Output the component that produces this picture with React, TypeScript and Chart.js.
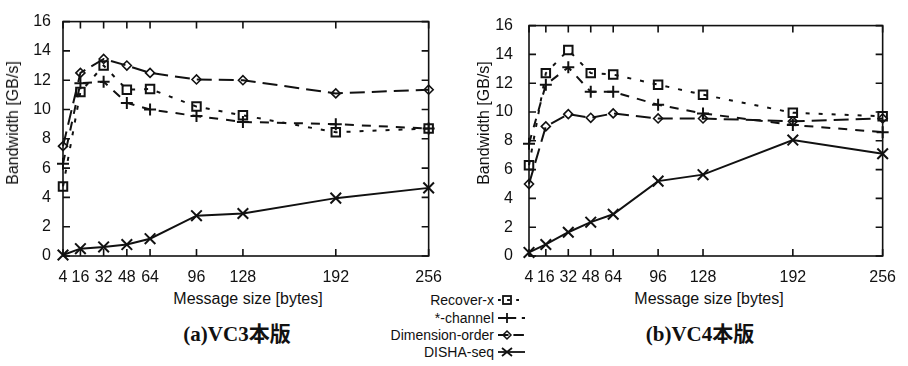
import React, { useEffect, useRef } from 'react';
import { Chart, registerables } from 'chart.js';

Chart.register(...registerables);

// ---------- data ----------
const messageSizes = [4, 16, 32, 48, 64, 96, 128, 192, 256];
const xTickValues = [4, 16, 32, 48, 64, 96, 128, 192, 256];
const yMin = 0;
const yMax = 16;
const yStep = 2;

const seriesNames = ['Recover-x', '*-channel', 'Dimension-order', 'DISHA-seq'];

const vc3RecoverX = [4.75, 11.2, 13.0, 11.35, 11.4, 10.2, 9.6, 8.45, 8.7];
const vc3StarChannel = [6.3, 11.8, 11.9, 10.45, 10.0, 9.55, 9.15, 9.0, 8.7];
const vc3DimensionOrder = [7.5, 12.5, 13.45, 13.0, 12.5, 12.05, 12.0, 11.1, 11.35];
const vc3DishaSeq = [0.07, 0.5, 0.62, 0.78, 1.18, 2.75, 2.9, 3.95, 4.65];

const vc4RecoverX = [6.3, 12.7, 14.3, 12.7, 12.6, 11.9, 11.2, 9.95, 9.7];
const vc4StarChannel = [7.8, 11.9, 13.1, 11.4, 11.4, 10.5, 9.9, 9.1, 8.6];
const vc4DimensionOrder = [5.0, 9.0, 9.85, 9.6, 9.9, 9.55, 9.55, 9.35, 9.55];
const vc4DishaSeq = [0.25, 0.8, 1.65, 2.35, 2.9, 5.2, 5.65, 8.05, 7.1];

const xTitle = 'Message size [bytes]';
const yTitle = 'Bandwidth [GB/s]';
const captionA = '(a)VC3本版';
const captionB = '(b)VC4本版';

// ---------- styles ----------
const INK = '#111';
const SANS = "'Liberation Sans', Arial, Helvetica, sans-serif";
const SERIF = "'Liberation Serif', 'DejaVu Serif', 'Noto Sans CJK JP', serif";

const seriesStyles = [
  { dash: [4, 9], pointStyle: 'rect', radius: 6, pointBorderWidth: 2 },
  { dash: [9, 8], pointStyle: 'cross', radius: 6, pointBorderWidth: 2 },
  { dash: [15, 7], pointStyle: 'rectRot', radius: 4.5, pointBorderWidth: 1.6 },
  { dash: [], pointStyle: 'crossRot', radius: 7.5, pointBorderWidth: 2 },
];

const framePlugin = {
  id: 'gnuFrame',
  afterDatasetsDraw(chart: any) {
    const { ctx, chartArea, scales } = chart;
    const { left, right, top, bottom } = chartArea;
    const x = scales.x;
    const y = scales.y;
    const t = 7;
    ctx.save();
    ctx.strokeStyle = INK;
    ctx.lineWidth = 1.6;
    ctx.strokeRect(left, top, right - left, bottom - top);
    ctx.beginPath();
    x.ticks.forEach((tk: any) => {
      const px = x.getPixelForValue(tk.value);
      ctx.moveTo(px, bottom);
      ctx.lineTo(px, bottom - t);
      ctx.moveTo(px, top);
      ctx.lineTo(px, top + t);
    });
    y.ticks.forEach((tk: any) => {
      const py = y.getPixelForValue(tk.value);
      ctx.moveTo(left, py);
      ctx.lineTo(left + t, py);
      ctx.moveTo(right, py);
      ctx.lineTo(right - t, py);
    });
    ctx.stroke();
    ctx.restore();
  },
};

function makeDatasets(series: number[][]) {
  return series.map((vals, i) => {
    const s = seriesStyles[i];
    return {
      label: seriesNames[i],
      data: messageSizes.map((m, j) => ({ x: m, y: vals[j] })),
      borderColor: INK,
      borderWidth: 2,
      borderDash: s.dash,
      pointStyle: s.pointStyle,
      pointRadius: s.radius,
      pointBorderWidth: s.pointBorderWidth,
      pointBorderColor: INK,
      pointBackgroundColor: 'rgba(0,0,0,0)',
      fill: false,
      tension: 0,
      clip: false,
    };
  });
}

type PanelProps = {
  series: number[][];
  left: number;
  width: number;
  height: number;
  axisWidth: number;
  padRight: number;
  yLabelPad: number;
};

function Panel({ series, left, width, height, axisWidth, padRight, yLabelPad }: PanelProps) {
  const ref = useRef<HTMLCanvasElement | null>(null);
  useEffect(() => {
    if (!ref.current) return;
    const chart = new Chart(ref.current, {
      type: 'line',
      data: { datasets: makeDatasets(series) as any },
      options: {
        responsive: false,
        maintainAspectRatio: false,
        animation: false,
        layout: { padding: { left: 0, right: padRight, top: 17, bottom: 0 } },
        plugins: { legend: { display: false }, tooltip: { enabled: false } },
        scales: {
          x: {
            type: 'linear',
            min: messageSizes[0],
            max: messageSizes[messageSizes.length - 1],
            afterBuildTicks: (s: any) => {
              s.ticks = xTickValues.map((v) => ({ value: v }));
            },
            afterFit: (s: any) => {
              s.height = height - 256;
            },
            grid: { display: false, drawTicks: false },
            border: { display: false },
            ticks: {
              autoSkip: false,
              maxRotation: 0,
              padding: 12,
              color: INK,
              font: { family: SANS, size: 16 },
            },
          },
          y: {
            min: yMin,
            max: yMax,
            afterFit: (s: any) => {
              s.width = axisWidth;
            },
            grid: { display: false, drawTicks: false },
            border: { display: false },
            ticks: {
              stepSize: yStep,
              padding: yLabelPad,
              color: INK,
              font: { family: SANS, size: 16 },
            },
          },
        },
      } as any,
      plugins: [framePlugin],
    });
    return () => chart.destroy();
  }, []);
  return (
    <canvas
      ref={ref}
      width={width}
      height={height}
      style={{ position: 'absolute', left, top: 0, width, height }}
    />
  );
}

function LegendSymbol({ i, cy }: { i: number; cy: number }) {
  const s = seriesStyles[i];
  const mx = 507;
  const x1 = 498;
  const x2 = 525;
  let marker: React.ReactNode = null;
  if (s.pointStyle === 'rect') {
    marker = <rect x={mx - 4} y={cy - 4} width={8} height={8} fill="none" stroke={INK} strokeWidth={1.8} />;
  } else if (s.pointStyle === 'cross') {
    marker = (
      <path d={`M${mx - 5} ${cy}H${mx + 5}M${mx} ${cy - 5}V${cy + 5}`} stroke={INK} strokeWidth={1.8} />
    );
  } else if (s.pointStyle === 'rectRot') {
    marker = (
      <path d={`M${mx} ${cy - 4}L${mx + 4} ${cy}L${mx} ${cy + 4}L${mx - 4} ${cy}Z`} fill="none" stroke={INK} strokeWidth={1.5} />
    );
  } else {
    marker = (
      <path d={`M${mx - 5} ${cy - 4}L${mx + 5} ${cy + 4}M${mx - 5} ${cy + 4}L${mx + 5} ${cy - 4}`} stroke={INK} strokeWidth={1.8} />
    );
  }
  const dash = s.dash.length ? s.dash.map((d) => d * 0.7).join(' ') : undefined;
  return (
    <g>
      <line x1={x1} y1={cy} x2={x2} y2={cy} stroke={INK} strokeWidth={1.8} strokeDasharray={dash} />
      {marker}
    </g>
  );
}

export default function App() {
  const legendY = [300, 318, 335, 352];
  const textBase: React.CSSProperties = {
    position: 'absolute',
    fontFamily: SANS,
    color: INK,
    whiteSpace: 'nowrap',
    lineHeight: 1,
  };
  return (
    <div
      style={{
        position: 'fixed',
        left: 0,
        top: 0,
        width: 908,
        height: 366,
        background: '#fff',
        overflow: 'hidden',
      }}
    >
      <Panel
        series={[vc3RecoverX, vc3StarChannel, vc3DimensionOrder, vc3DishaSeq]}
        left={0}
        width={454}
        height={290}
        axisWidth={63}
        padRight={23}
        yLabelPad={12}
      />
      <Panel
        series={[vc4RecoverX, vc4StarChannel, vc4DimensionOrder, vc4DishaSeq]}
        left={454}
        width={454}
        height={290}
        axisWidth={75}
        padRight={17}
        yLabelPad={16}
      />

      {/* y-axis titles */}
      {[13, 484].map((cx, k) => (
        <div
          key={'yt' + k}
          style={{
            ...textBase,
            fontSize: 16,
            left: cx,
            top: 123,
            transform: 'translate(-50%, -50%) rotate(-90deg)',
          }}
        >
          {yTitle}
        </div>
      ))}

      {/* x-axis titles */}
      {[248, 709].map((cx, k) => (
        <div
          key={'xt' + k}
          style={{ ...textBase, fontSize: 16, left: cx, top: 299, transform: 'translate(-50%, -50%)' }}
        >
          {xTitle}
        </div>
      ))}

      {/* captions */}
      {[
        [237, captionA],
        [700, captionB],
      ].map(([cx, txt], k) => (
        <div
          key={'cap' + k}
          style={{
            ...textBase,
            fontFamily: SERIF,
            fontWeight: 'bold',
            fontSize: 21,
            left: cx as number,
            top: 334,
            transform: 'translate(-50%, -50%)',
          }}
        >
          {txt}
        </div>
      ))}

      {/* legend */}
      {seriesNames.map((name, i) => (
        <div
          key={'lg' + i}
          style={{
            ...textBase,
            fontSize: 14,
            left: 294,
            width: 200,
            textAlign: 'right',
            top: legendY[i],
            transform: 'translateY(-50%)',
          }}
        >
          {name}
        </div>
      ))}
      <svg
        width={908}
        height={366}
        style={{ position: 'absolute', left: 0, top: 0, pointerEvents: 'none' }}
      >
        {seriesNames.map((_, i) => (
          <LegendSymbol key={i} i={i} cy={legendY[i]} />
        ))}
      </svg>
    </div>
  );
}
